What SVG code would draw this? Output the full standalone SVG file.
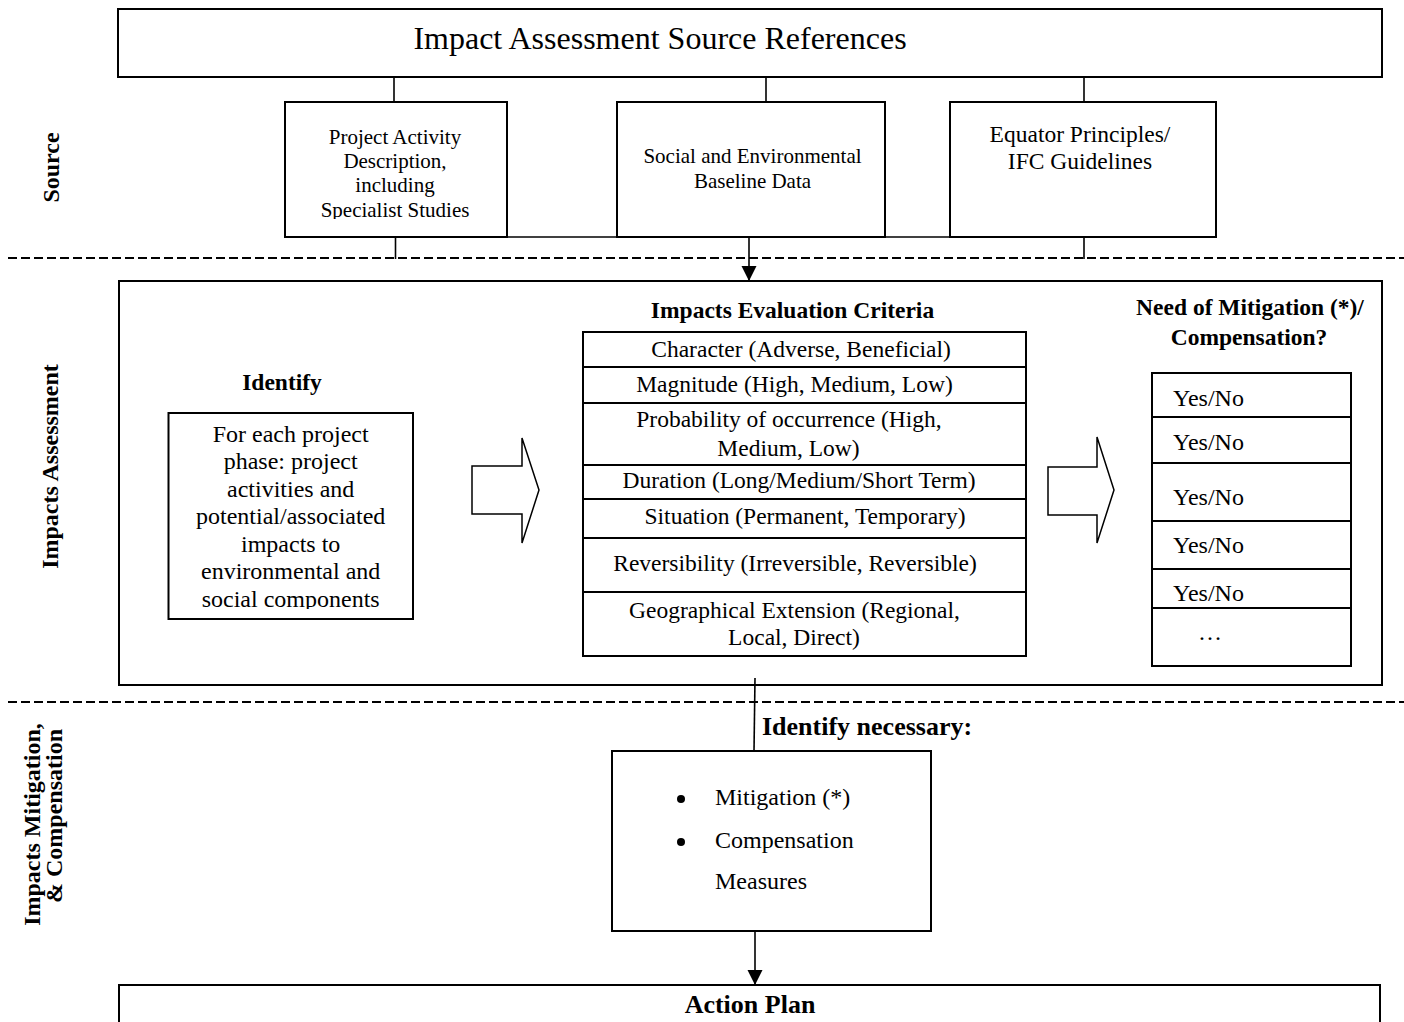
<svg xmlns="http://www.w3.org/2000/svg" width="1404" height="1022" viewBox="0 0 1404 1022">
<style>
  text { font-family: "Liberation Serif", "Times New Roman", serif; fill: #000; }
  .box { fill: #fff; stroke: #000; stroke-width: 2; }
  .cell { fill: none; stroke: #000; stroke-width: 2; }
  .ln { fill: none; stroke: #000; stroke-width: 1.6; }
  .dash { fill: none; stroke: #000; stroke-width: 2; stroke-dasharray: 9 4; }
  .blk { fill: #fff; stroke: #000; stroke-width: 1.5; stroke-linejoin: miter; }
  .c { text-anchor: middle; }
  .b { font-weight: bold; }
  .t21 { font-size: 21px; }
  .t23 { font-size: 23.5px; }
  .t24 { font-size: 24px; }
</style>
<defs>
  <marker id="ah" markerUnits="userSpaceOnUse" markerWidth="16" markerHeight="16" refX="15" refY="7.5" orient="auto">
    <path d="M0,0 L15,7.5 L0,15 Z" fill="#000"/>
  </marker>
  <clipPath id="clip1"><rect x="285" y="102" width="222" height="117"/></clipPath>
  <clipPath id="clipId"><rect x="168" y="413" width="245" height="196"/></clipPath>
</defs>

<!-- section dividers -->
<g id="dividers">
  <line class="dash" x1="8" y1="258" x2="1404" y2="258"/>
  <line class="dash" x1="8" y1="702" x2="1404" y2="702"/>
</g>

<!-- side labels -->
<g id="label-source">
  <text class="b t24 c" transform="translate(59,167.5) rotate(-90)">Source</text>
</g>
<g id="label-assessment">
  <text class="b t24 c" transform="translate(58,466.5) rotate(-90)">Impacts Assessment</text>
</g>
<g id="label-mitigation">
  <text class="b t24 c" transform="translate(39.5,824.5) rotate(-90)">Impacts Mitigation,</text>
  <text class="b t24 c" transform="translate(62,816) rotate(-90)">&amp; Compensation</text>
</g>

<!-- connectors -->
<g id="connectors">
  <line class="ln" x1="394" y1="77" x2="394" y2="102"/>
  <line class="ln" x1="766" y1="77" x2="766" y2="102"/>
  <line class="ln" x1="1084" y1="77" x2="1084" y2="102"/>
  <line class="ln" x1="395.5" y1="237" x2="1084" y2="237"/>
  <line class="ln" x1="395.5" y1="237" x2="395.5" y2="259"/>
  <line class="ln" x1="1084" y1="237" x2="1084" y2="259"/>
  <line class="ln" x1="749" y1="237" x2="749" y2="281" marker-end="url(#ah)"/>
  <line class="ln" x1="755" y1="678" x2="754" y2="751"/>
  <line class="ln" x1="755" y1="931" x2="755" y2="985" marker-end="url(#ah)"/>
</g>

<!-- top box -->
<g id="source-references">
  <rect class="box" x="118" y="9" width="1264" height="68"/>
  <text class="c" x="660" y="49" font-size="32">Impact Assessment Source References</text>
</g>

<g id="project-activity">
  <rect class="box" x="285" y="102" width="222" height="135"/>
  <g clip-path="url(#clip1)">
    <text class="c t21" x="395" y="144">Project Activity</text>
    <text class="c t21" x="395" y="168">Description,</text>
    <text class="c t21" x="395" y="192">including</text>
    <text class="c t21" x="395" y="217">Specialist Studies</text>
  </g>
</g>

<g id="baseline-data">
  <rect class="box" x="617" y="102" width="268" height="135"/>
  <text class="c t21" x="752.5" y="163">Social and Environmental</text>
  <text class="c t21" x="752.5" y="188">Baseline Data</text>
</g>

<g id="equator">
  <rect class="box" x="950" y="102" width="266" height="135"/>
  <text class="c t23" x="1080" y="142">Equator Principles/</text>
  <text class="c t23" x="1080" y="169">IFC Guidelines</text>
</g>

<!-- impacts assessment container -->
<g id="impacts-assessment">
  <rect class="cell" x="119" y="281" width="1263" height="404"/>
</g>

<g id="identify">
  <text class="c b t23" x="282" y="390">Identify</text>
  <rect class="box" x="168.5" y="413" width="244.5" height="206"/>
  <g clip-path="url(#clipId)">
    <text class="c t24" x="290.7" y="442">For each project</text>
    <text class="c t24" x="290.7" y="469">phase: project</text>
    <text class="c t24" x="290.7" y="497">activities and</text>
    <text class="c t24" x="290.7" y="524">potential/associated</text>
    <text class="c t24" x="290.7" y="552">impacts to</text>
    <text class="c t24" x="290.7" y="579">environmental and</text>
    <text class="c t24" x="290.7" y="607">social components</text>
  </g>
</g>

<g id="arrow-1">
  <polygon class="blk" points="472,466 522,466 522,438 539,490 522,543 522,514 472,514"/>
</g>

<g id="evaluation-criteria">
  <text class="c b t23" x="792.5" y="318">Impacts Evaluation Criteria</text>
  <rect class="cell" x="583" y="332" width="443" height="324"/>
  <line class="cell" x1="583" y1="367" x2="1026" y2="367"/>
  <line class="cell" x1="583" y1="403" x2="1026" y2="403"/>
  <line class="cell" x1="583" y1="465" x2="1026" y2="465"/>
  <line class="cell" x1="583" y1="499" x2="1026" y2="499"/>
  <line class="cell" x1="583" y1="538" x2="1026" y2="538"/>
  <line class="cell" x1="583" y1="592" x2="1026" y2="592"/>
  <text class="c t23" x="801" y="357">Character (Adverse, Beneficial)</text>
  <text class="c t23" x="794.5" y="392">Magnitude (High, Medium, Low)</text>
  <text class="c t23" x="789" y="427">Probability of occurrence (High,</text>
  <text class="c t23" x="788.5" y="456">Medium, Low)</text>
  <text class="c t23" x="799" y="488">Duration (Long/Medium/Short Term)</text>
  <text class="c t23" x="805" y="524">Situation (Permanent, Temporary)</text>
  <text class="c t23" x="795" y="571">Reversibility (Irreversible, Reversible)</text>
  <text class="c t23" x="794.5" y="618">Geographical Extension (Regional,</text>
  <text class="c t23" x="794" y="645">Local, Direct)</text>
</g>

<g id="arrow-2">
  <polygon class="blk" points="1048,467 1097,467 1097,437 1114,490 1097,543 1097,515 1048,515"/>
</g>

<g id="need-mitigation">
  <text class="c b t23" x="1250" y="315">Need of Mitigation (*)/</text>
  <text class="c b t23" x="1249" y="345">Compensation?</text>
  <rect class="cell" x="1152" y="373" width="199" height="293"/>
  <line class="cell" x1="1152" y1="417" x2="1351" y2="417"/>
  <line class="cell" x1="1152" y1="463" x2="1351" y2="463"/>
  <line class="cell" x1="1152" y1="521" x2="1351" y2="521"/>
  <line class="cell" x1="1152" y1="569" x2="1351" y2="569"/>
  <line class="cell" x1="1152" y1="608" x2="1351" y2="608"/>
  <text class="t24" x="1173" y="406">Yes/No</text>
  <text class="t24" x="1173" y="450">Yes/No</text>
  <text class="t24" x="1173" y="505">Yes/No</text>
  <text class="t24" x="1173" y="553">Yes/No</text>
  <text class="t24" x="1173" y="601">Yes/No</text>
  <text class="c t24" x="1210" y="640">…</text>
</g>

<g id="identify-necessary">
  <text class="b" x="762" y="735" font-size="26px">Identify necessary:</text>
  <rect class="box" x="612" y="751" width="319" height="180"/>
  <circle cx="681" cy="799" r="4"/>
  <circle cx="681" cy="842" r="4"/>
  <text class="t24" x="715" y="805">Mitigation (*)</text>
  <text class="t24" x="715" y="848">Compensation</text>
  <text class="t24" x="715" y="889">Measures</text>
</g>

<g id="action-plan">
  <rect class="box" x="119" y="985" width="1261" height="50"/>
  <text class="c b" x="750" y="1013" font-size="26px">Action Plan</text>
</g>
</svg>
